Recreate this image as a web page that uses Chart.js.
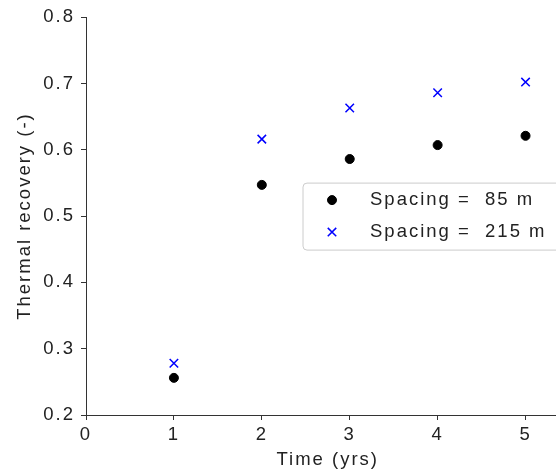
<!DOCTYPE html>
<html lang="en">
<head>
<meta charset="UTF-8" />
<title>Thermal recovery</title>
<script src="https://cdn.jsdelivr.net/npm/chart.js"></script>
<style>
  html, body { margin: 0; padding: 0; overflow: hidden; background: #fff; }
  #wrap { width: 577px; height: 474px; }
</style>
</head>
<body>
<div id="wrap"><canvas id="recoveryChart" width="577" height="474"></canvas></div>
<script>
    const timeYears = [1, 2, 3, 4, 5];
    const spacing85 = [0.256, 0.547, 0.586, 0.607, 0.621];
    const spacing215 = [0.278, 0.616, 0.663, 0.686, 0.702];
    const seriesLabels = ['Spacing =  85 m', 'Spacing =  215 m'];

    const FONT = { family: '"Liberation Sans", Arial, sans-serif', size: 18.5 };
    const AXIS = '#333333';

    // canvas letter spacing, the source figure has wide text
    const spacingPlugin = {
        id: 'spacing',
        beforeLayout(chart) { chart.ctx.letterSpacing = '2px'; },
        beforeDraw(chart) { chart.ctx.letterSpacing = '2px'; }
    };

    // legend floating inside the plot, like the original
    const boxLegend = {
        id: 'boxLegend',
        afterDraw(chart) {
            const ctx = chart.ctx;
            const area = chart.chartArea;
            const x = area.left + 217, y = area.top + 166;
            const w = area.right - 8 - x, h = 67;
            ctx.save();
            ctx.beginPath();
            ctx.roundRect(x, y, w, h, 4);
            ctx.fillStyle = 'rgba(255,255,255,0.85)';
            ctx.fill();
            ctx.strokeStyle = '#cccccc';
            ctx.lineWidth = 1;
            ctx.stroke();
            ctx.font = '18.5px "Liberation Sans", Arial, sans-serif';
            ctx.textBaseline = 'middle';
            ctx.textAlign = 'left';
            chart.data.datasets.forEach((ds, i) => {
                const rowY = y + 17 + i * 32;
                ctx.fillStyle = ds.backgroundColor;
                ctx.strokeStyle = ds.borderColor;
                ctx.lineWidth = ds.borderWidth;
                Chart.helpers.drawPoint(ctx, {
                    pointStyle: ds.pointStyle, rotation: 0,
                    radius: ds.pointRadius, borderWidth: ds.borderWidth
                }, x + 29, rowY);
                ctx.fillStyle = '#222222';
                ctx.fillText(ds.label, x + 67, rowY);
            });
            ctx.restore();
        }
    };

    new Chart(document.getElementById('recoveryChart'), {
        type: 'scatter',
        data: {
            datasets: [{
                label: seriesLabels[0],
                data: timeYears.map((t, i) => ({ x: t, y: spacing85[i] })),
                pointStyle: 'circle',
                pointRadius: 4.5,
                backgroundColor: '#000000',
                borderColor: '#000000',
                borderWidth: 1
            }, {
                label: seriesLabels[1],
                data: timeYears.map((t, i) => ({ x: t, y: spacing215[i] })),
                pointStyle: 'crossRot',
                pointRadius: 6,
                backgroundColor: '#0000ff',
                borderColor: '#0000ff',
                borderWidth: 1.5
            }]
        },
        options: {
            responsive: false,
            animation: false,
            layout: { padding: { top: 16, right: 0, left: 0, bottom: 0 } },
            plugins: { legend: { display: false }, tooltip: { enabled: false } },
            scales: {
                x: {
                    type: 'linear',
                    min: 0,
                    max: 5.5,
                    afterFit(scale) { scale.height = 59; },
                    border: { color: AXIS, width: 1 },
                    grid: { drawOnChartArea: false, drawTicks: true, tickLength: 5, color: AXIS },
                    ticks: { stepSize: 1, includeBounds: false, color: '#222222', font: FONT, padding: 4 },
                    title: { display: true, text: 'Time (yrs)', color: '#222222', font: FONT, padding: { top: 0, bottom: 3 } }
                },
                y: {
                    min: 0.2,
                    max: 0.8,
                    afterFit(scale) { scale.width = 86; },
                    border: { color: AXIS, width: 1 },
                    grid: { drawOnChartArea: false, drawTicks: true, tickLength: 5, color: AXIS },
                    ticks: {
                        stepSize: 0.1,
                        color: '#222222',
                        font: FONT,
                        padding: 6,
                        callback: v => v.toFixed(1)
                    },
                    title: { display: true, text: 'Thermal recovery (-)', color: '#222222', font: FONT, padding: { top: 14, bottom: 0 } }
                }
            }
        },
        plugins: [spacingPlugin, boxLegend]
    });
</script>
</body>
</html>
